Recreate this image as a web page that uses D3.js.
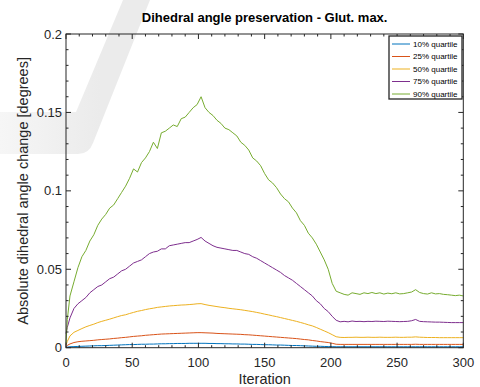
<!DOCTYPE html>
<html><head><meta charset="utf-8">
<script src="https://cdn.jsdelivr.net/npm/d3@7"></script>
<style>
body{margin:0;background:#fff}
svg{display:block}
text{font-family:"Liberation Sans",Arial,Helvetica,sans-serif}
</style>
</head><body>
<svg id="chart" width="480" height="387"></svg>
<script>
// ---- data ----
const iterations=[0,1,3,6,9,12,15,18,21,24,27,30,33,36,39,42,45,48,51,54,57,60,63,66,69,72,75,78,81,84,87,90,93,96,99,
102,105,108,111,114,117,120,123,126,129,132,135,138,141,144,147,150,153,156,159,162,165,168,171,174,177,180,183,186,189,192,195,198,201,204,
207,210,213,216,219,222,225,228,231,234,237,240,243,246,249,252,255,258,261,264,267,270,273,276,279,282,285,288,291,294,297,300];

const q10=[0.0002,0.0004,
0.0006,0.0007,0.0008,0.0009,0.001,0.0011,0.0012,0.0013,0.0013,0.0014,
0.0015,0.0016,0.0017,0.0018,0.0019,0.002,0.002,0.0021,0.0022,0.0022,
0.0023,0.0023,0.0024,0.0025,0.0025,0.0026,0.0026,0.0027,0.0027,0.0027,
0.0028,0.0028,0.0028,
0.0028,0.0028,0.0027,0.0027,0.0026,0.0026,0.0025,0.0025,0.0024,0.0024,
0.0023,0.0023,0.0022,0.0021,0.0021,0.002,0.0019,0.0019,0.0018,0.0017,
0.0017,0.0016,0.0015,0.0014,0.0014,0.0013,0.0012,0.0011,0.001,0.0009,
0.0009,0.0008,0.0007,0.0007,0.0006,
0.0006,0.0006,0.0006,0.0006,0.0006,0.0006,0.0006,0.0006,0.0006,0.0006,
0.0006,0.0006,0.0006,0.0006,0.0006,0.0006,0.0006,0.0006,0.0006,0.0006,
0.0006,0.0006,0.0006,0.0006,0.0006,0.0006,0.0006,0.0006,0.0006,0.0006,
0.0006,0.0006];

const q25=[0.0005,0.0015,
0.0024,0.0033,0.0038,0.0041,0.0043,0.0045,0.0047,0.005,0.0052,0.0054,
0.0056,0.0059,0.0061,0.0064,0.0066,0.0069,0.0072,0.0074,0.0076,0.0079,
0.0081,0.0083,0.0085,0.0087,0.0088,0.0089,0.009,0.0091,0.0092,0.0093,
0.0094,0.0095,0.0096,
0.0096,0.0095,0.0094,0.0093,0.0091,0.009,0.0089,0.0088,0.0087,0.0086,
0.0085,0.0083,0.0082,0.008,0.0078,0.0076,0.0074,0.0072,0.007,0.0068,
0.0066,0.0064,0.0062,0.006,0.0058,0.0055,0.0052,0.005,0.0046,0.0043,
0.0039,0.0036,0.0033,0.0028,0.0022,
0.0021,0.0021,0.0021,0.0021,0.0021,0.0021,0.0021,0.0021,0.0021,0.0021,
0.0021,0.0021,0.0021,0.0021,0.0021,0.0021,0.0021,0.0021,0.0021,0.0022,
0.0021,0.0021,0.0021,0.0021,0.0021,0.0021,0.0021,0.0021,0.0021,0.0021,
0.0021,0.0021];

const q50=[0.0017,0.004,
0.0075,0.0098,0.011,0.0122,0.0133,0.0142,0.015,0.016,0.0168,0.0175,
0.0182,0.019,0.0198,0.0205,0.021,0.0218,0.0225,0.0232,0.0237,0.0243,
0.0248,0.0252,0.0257,0.026,0.0263,0.0266,0.0268,0.027,0.0272,0.0273,
0.0275,0.0277,0.028,
0.0281,0.0275,0.027,0.0266,0.0262,0.0258,0.0255,0.0251,0.0248,0.0245,
0.0242,0.0238,0.0234,0.023,0.0225,0.022,0.0214,0.0209,0.0203,0.0198,
0.0192,0.0186,0.018,0.0174,0.0168,0.0161,0.0154,0.0146,0.0139,0.0129,
0.0118,0.0107,0.0096,0.0083,0.007,
0.0066,0.0065,0.0066,0.0066,0.0067,0.0066,0.0066,0.0067,0.0066,0.0066,
0.0067,0.0066,0.0066,0.0066,0.0067,0.0066,0.0066,0.0067,0.0067,0.0069,
0.0067,0.0066,0.0065,0.0065,0.0065,0.0064,0.0064,0.0064,0.0064,0.0064,
0.0064,0.0064];

const q75=[0.009,0.013,
0.019,0.025,0.028,0.030,0.032,0.035,0.037,0.039,0.040,0.042,
0.044,0.045,0.047,0.049,0.050,0.052,0.054,0.055,0.056,0.058,
0.060,0.061,0.0615,0.063,0.063,0.065,0.0655,0.066,0.0665,0.067,
0.067,0.068,0.069,
0.0703,0.068,0.0665,0.065,0.064,0.0635,0.063,0.0625,0.062,0.062,
0.061,0.060,0.0595,0.058,0.057,0.0555,0.054,0.0525,0.051,0.0495,
0.048,0.046,0.0445,0.043,0.041,0.039,0.037,0.035,0.033,0.030,
0.028,0.025,0.023,0.020,0.0175,
0.0165,0.0168,0.0165,0.017,0.0167,0.0168,0.0166,0.0168,0.0167,0.0169,
0.0168,0.0167,0.0169,0.0168,0.0167,0.0166,0.0167,0.0168,0.0172,0.018,
0.0168,0.0166,0.0165,0.0164,0.0163,0.0163,0.0162,0.0161,0.016,0.016,
0.016,0.016];

const q90=[0.003,0.018,
0.033,0.042,0.051,0.058,0.062,0.068,0.072,0.078,0.082,0.085,
0.089,0.091,0.095,0.099,0.103,0.108,0.114,0.112,0.118,0.121,
0.125,0.131,0.127,0.137,0.138,0.140,0.142,0.141,0.146,0.147,
0.150,0.153,0.155,
0.160,0.153,0.150,0.148,0.145,0.143,0.140,0.139,0.137,0.135,
0.131,0.129,0.126,0.121,0.119,0.116,0.111,0.107,0.105,0.102,
0.098,0.095,0.093,0.089,0.086,0.081,0.078,0.073,0.070,0.066,
0.061,0.056,0.050,0.041,0.036,
0.035,0.034,0.0335,0.035,0.0345,0.034,0.035,0.0345,0.0352,0.0345,
0.035,0.0342,0.0348,0.0344,0.035,0.0343,0.0345,0.035,0.0355,0.037,
0.0352,0.0345,0.0342,0.035,0.0343,0.0345,0.034,0.0338,0.0335,0.0332,
0.0335,0.033];

const seriesNames=["10% quartile","25% quartile","50% quartile","75% quartile","90% quartile"];
const seriesColors=["#0072BD","#D95319","#EDB120","#7E2F8E","#77AC30"];
const xTicks=[0,50,100,150,200,250,300];
const yTicks=[0,0.05,0.1,0.15,0.2];
const yTickLabels=["0","0.05","0.1","0.15","0.2"];
const titleText="Dihedral angle preservation - Glut. max.";
const xLabel="Iteration";
const yLabel="Absolute dihedral angle change [degrees]";

// ---- drawing ----
const series=[q10,q25,q50,q75,q90];
const svg=d3.select("#chart");
const L=66,R=463.3,T=34,B=347.7;
const axisColor="#262626";

// background watermark
const defs=svg.append("defs");
const g1=defs.append("linearGradient").attr("id","wm").attr("gradientUnits","userSpaceOnUse")
  .attr("x1",0).attr("y1",0).attr("x2",100).attr("y2",0);
g1.append("stop").attr("offset",0).attr("stop-color","#f6f6f6");
g1.append("stop").attr("offset",1).attr("stop-color","#ebebeb");
svg.append("path").attr("d","M123,0 L150,0 L93,143 Q89,154 78,154 L0,154 L0,112 L76,112 Z")
  .attr("fill","url(#wm)");

const x=d3.scaleLinear().domain([0,300]).range([L,R]);
const y=d3.scaleLinear().domain([0,0.2]).range([B,T]);

// lines
const line=d3.line().x((d,i)=>x(iterations[i])).y(d=>y(d));
series.forEach((s,k)=>{
  svg.append("path").datum(s).attr("d",line).attr("fill","none")
    .attr("stroke",seriesColors[k]).attr("stroke-width",1).attr("stroke-linejoin","round");
});

// box
svg.append("rect").attr("x",L).attr("y",T).attr("width",R-L).attr("height",B-T)
  .attr("fill","none").attr("stroke",axisColor).attr("stroke-width",1);

// ticks (inward, all sides)
const xMinor=d3.range(0,301,10), yMinor=d3.range(0,0.2001,0.01);
const tg=svg.append("g").attr("stroke",axisColor).attr("stroke-width",1);
xMinor.forEach(v=>{
  const major=xTicks.includes(v); const len=major?5:2.5;
  tg.append("line").attr("x1",x(v)).attr("x2",x(v)).attr("y1",B).attr("y2",B-len);
  tg.append("line").attr("x1",x(v)).attr("x2",x(v)).attr("y1",T).attr("y2",T+len);
});
yMinor.forEach(v=>{
  const major=yTicks.some(t=>Math.abs(t-v)<1e-9); const len=major?5:2.5;
  tg.append("line").attr("y1",y(v)).attr("y2",y(v)).attr("x1",L).attr("x2",L+len);
  tg.append("line").attr("y1",y(v)).attr("y2",y(v)).attr("x1",R).attr("x2",R-len);
});

// tick labels
svg.append("g").selectAll("text").data(xTicks).join("text")
  .attr("x",d=>x(d)).attr("y",B+19).attr("text-anchor","middle")
  .attr("font-size",13).attr("fill",axisColor).text(d=>d);
svg.append("g").selectAll("text").data(yTicks).join("text")
  .attr("x",L-4).attr("y",d=>y(d)+4.6).attr("text-anchor","end")
  .attr("font-size",13).attr("fill",axisColor).text((d,i)=>yTickLabels[i]);

// labels & title
svg.append("text").attr("x",(L+R)/2).attr("y",22).attr("text-anchor","middle")
  .attr("font-size",13).attr("font-weight","bold").attr("fill","#000").text(titleText);
svg.append("text").attr("x",(L+R)/2).attr("y",383.5).attr("text-anchor","middle")
  .attr("font-size",14.5).attr("fill",axisColor).text(xLabel);
svg.append("text").attr("transform",`translate(28,${(T+B)/2}) rotate(-90)`).attr("text-anchor","middle")
  .attr("font-size",14.5).attr("fill",axisColor).text(yLabel);

// legend
const lg=svg.append("g");
lg.append("rect").attr("x",389).attr("y",36).attr("width",73).attr("height",63)
  .attr("fill","#fff").attr("stroke",axisColor).attr("stroke-width",1.3);
const rowY=[44,56.5,69,81.5,94];
seriesNames.forEach((n,k)=>{
  lg.append("line").attr("x1",392).attr("x2",410).attr("y1",rowY[k]).attr("y2",rowY[k])
    .attr("stroke",seriesColors[k]).attr("stroke-width",1);
  lg.append("text").attr("x",413).attr("y",rowY[k]+2.8).attr("font-size",8).attr("fill","#000").text(n);
});
</script>
</body></html>
